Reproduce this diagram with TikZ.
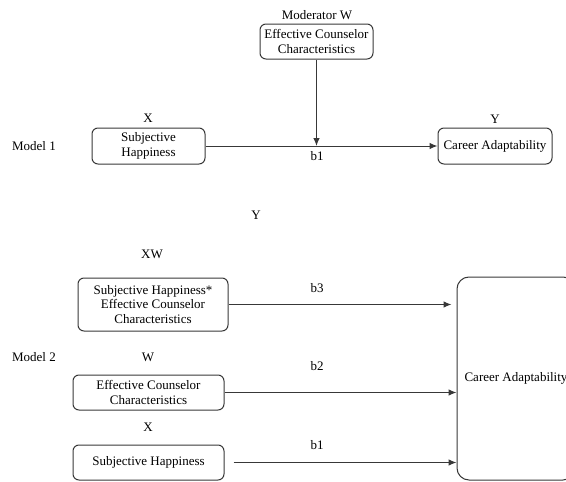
\documentclass[tikz,border=0pt]{standalone}
\usepackage{fontspec}
\setmainfont{Liberation Serif}
\usetikzlibrary{arrows.meta}
\definecolor{edge}{HTML}{383838}
\tikzset{
  box/.style={draw=edge, line width=1pt, rounded corners=6pt, align=center, inner sep=0pt,
    font=\fontsize{13}{14.5}\selectfont},
  lbl/.style={inner sep=0pt, font=\fontsize{13}{14.5}\selectfont},
  conn/.style={draw=edge, line width=1pt, -{Latex[length=8pt,width=6.5pt]}},
}
\begin{document}
\begin{tikzpicture}[x=1pt,y=-1pt]
\useasboundingbox (0,0) rectangle (566,482);
\clip (0,0) rectangle (566,482);
% Model 1
\node[lbl] (m1) at (34,146) {Model 1};
\node[lbl] (modw) at (317,15) {Moderator W};
\node[box, minimum width=113pt, minimum height=35pt] (mod) at (316.5,41.5) {Effective Counselor\\Characteristics};
\node[lbl] (x1) at (148,118) {X};
\node[box, minimum width=113pt, minimum height=36pt] (sh1) at (148.5,146) {Subjective\\Happiness};
\node[lbl] (y1) at (495,119) {Y};
\node[box, minimum width=114pt, minimum height=36pt] (ca1) at (495,146) {Career Adaptability};
\node[lbl] (b1a) at (317,156) {b1};
\coordinate (meet) at (mod.south |- sh1.east);
\draw[conn] (sh1.east) -- (ca1.west);
\draw[conn] (mod.south) -- (meet);
% stray label
\node[lbl] (ys) at (256,215) {Y};
% Model 2
\node[lbl] (m2) at (34,357) {Model 2};
\node[lbl] (xw) at (152,254) {XW};
\node[box, minimum width=150pt, minimum height=53pt] (bx1) at (153,304.5) {Subjective Happiness*\\Effective Counselor\\Characteristics};
\node[lbl] (w2) at (148,357) {W};
\node[box, minimum width=151pt, minimum height=35pt] (bx2) at (148.5,392.5) {Effective Counselor\\Characteristics};
\node[lbl] (x2) at (148,427) {X};
\node[box, minimum width=151pt, minimum height=35pt] (bx3) at (148.5,462.5) {Subjective Happiness};
\node[box, rounded corners=12pt, minimum width=118pt, minimum height=203pt] (ca2) at (516,378.5) {Career Adaptability};
\node[lbl] (b3) at (317,288) {b3};
\node[lbl] (b2) at (317,366) {b2};
\node[lbl] (b1b) at (317,445) {b1};
\draw[conn, shorten >=5pt] (bx1.east) -- (bx1.east -| ca2.west);
\draw[conn] (bx2.east) -- (bx2.east -| ca2.west);
\draw[conn, shorten <=9pt] (bx3.east) -- (bx3.east -| ca2.west);
\end{tikzpicture}
\end{document}
